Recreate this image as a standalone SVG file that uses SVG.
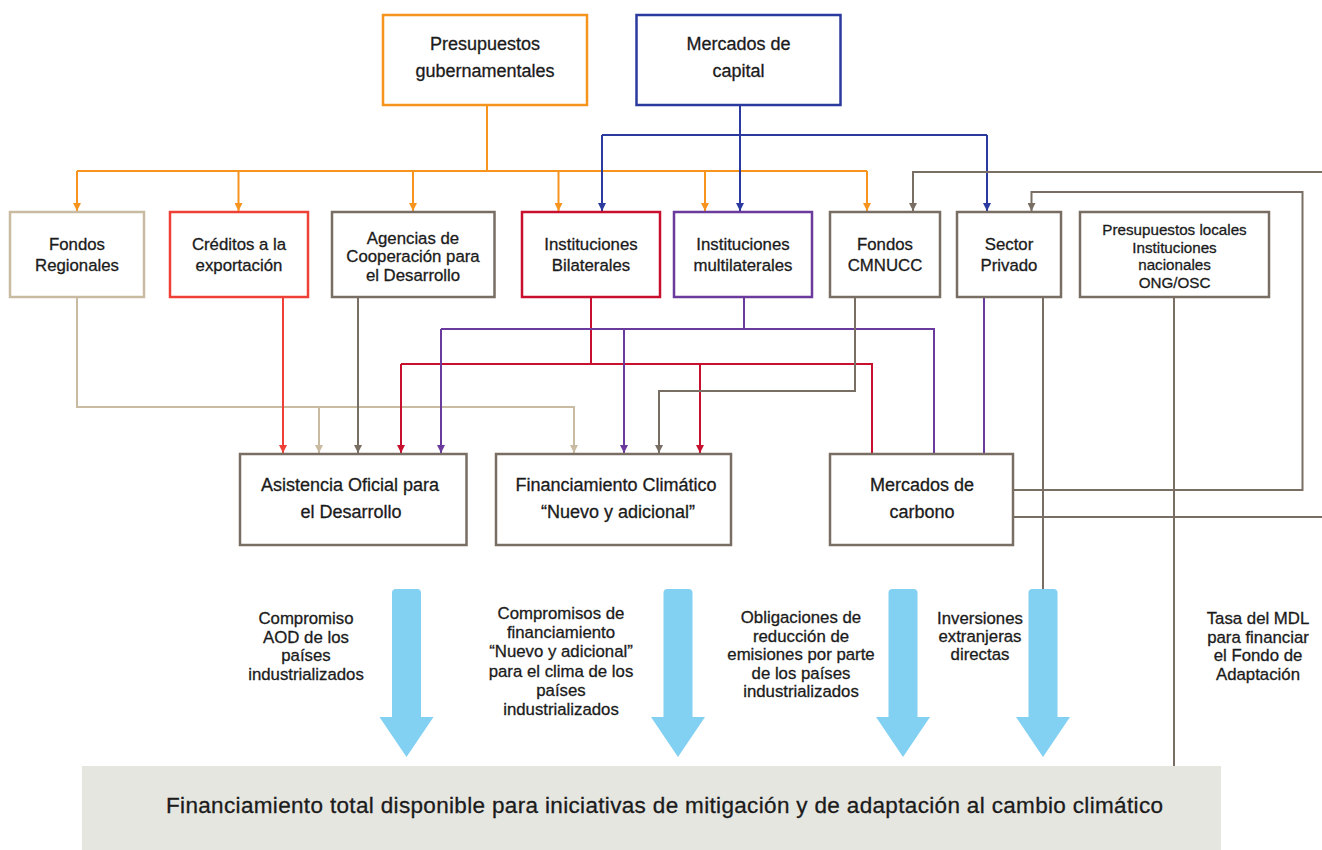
<svg xmlns="http://www.w3.org/2000/svg" width="1322" height="850" viewBox="0 0 1322 850">
<style>
text{font-family:"Liberation Sans",Arial,Helvetica,sans-serif;fill:#1b1b1b;stroke:#1b1b1b;stroke-width:0.3;text-anchor:middle}
.t18{font-size:18px}
.t17{font-size:16.8px}
.t15{font-size:15.2px}
.t22{font-size:22.5px}
.box{fill:#fff;stroke-width:2.5}
.ln{fill:none;stroke-width:2}
.or{stroke:#F7941D}.bl{stroke:#2B3A9E}.tn{stroke:#C8BBA2}.rd{stroke:#EE4036}
.gy{stroke:#786E63}.cr{stroke:#C8102E}.pu{stroke:#6A3B9C}
</style>
<defs>
<marker id="a-or" viewBox="0 0 8 8" refX="8" refY="4" markerWidth="8" markerHeight="8" markerUnits="userSpaceOnUse" orient="auto"><path d="M0,0L8,4L0,8z" fill="#F7941D"/></marker>
<marker id="a-bl" viewBox="0 0 8 8" refX="8" refY="4" markerWidth="8" markerHeight="8" markerUnits="userSpaceOnUse" orient="auto"><path d="M0,0L8,4L0,8z" fill="#2B3A9E"/></marker>
<marker id="a-tn" viewBox="0 0 8 8" refX="8" refY="4" markerWidth="8" markerHeight="8" markerUnits="userSpaceOnUse" orient="auto"><path d="M0,0L8,4L0,8z" fill="#C8BBA2"/></marker>
<marker id="a-rd" viewBox="0 0 8 8" refX="8" refY="4" markerWidth="8" markerHeight="8" markerUnits="userSpaceOnUse" orient="auto"><path d="M0,0L8,4L0,8z" fill="#EE4036"/></marker>
<marker id="a-gy" viewBox="0 0 8 8" refX="8" refY="4" markerWidth="8" markerHeight="8" markerUnits="userSpaceOnUse" orient="auto"><path d="M0,0L8,4L0,8z" fill="#786E63"/></marker>
<marker id="a-cr" viewBox="0 0 8 8" refX="8" refY="4" markerWidth="8" markerHeight="8" markerUnits="userSpaceOnUse" orient="auto"><path d="M0,0L8,4L0,8z" fill="#C8102E"/></marker>
<marker id="a-pu" viewBox="0 0 8 8" refX="8" refY="4" markerWidth="8" markerHeight="8" markerUnits="userSpaceOnUse" orient="auto"><path d="M0,0L8,4L0,8z" fill="#6A3B9C"/></marker>
<path id="bigarrow" d="M-14.5,128 V4 Q-14.5,0 -10.5,0 H10.5 Q14.5,0 14.5,4 V128 H27 L0,168 L-27,128 Z" fill="#82D0F2"/>
</defs>

<rect width="1322" height="850" fill="#fff"/>

<g id="connectors">
  <path class="ln or" d="M487,105V171M77,171H867"/>
  <path class="ln or" d="M77,171V211" marker-end="url(#a-or)"/>
  <path class="ln or" d="M238.5,171V211" marker-end="url(#a-or)"/>
  <path class="ln or" d="M413,171V211" marker-end="url(#a-or)"/>
  <path class="ln or" d="M558.5,171V211" marker-end="url(#a-or)"/>
  <path class="ln or" d="M705,171V211" marker-end="url(#a-or)"/>
  <path class="ln or" d="M867,171V211" marker-end="url(#a-or)"/>
  <path class="ln bl" d="M602,135H987"/>
  <path class="ln bl" d="M740,105V211" marker-end="url(#a-bl)"/>
  <path class="ln bl" d="M602,135V211" marker-end="url(#a-bl)"/>
  <path class="ln bl" d="M987,135V211" marker-end="url(#a-bl)"/>
  <path class="ln gy" d="M1013,517H1330"/>
  <path class="ln gy" d="M1330,172H913V211" marker-end="url(#a-gy)"/>
  <path class="ln gy" d="M1013,490H1302.5V192H1031.5V211" marker-end="url(#a-gy)"/>
  <path class="ln tn" d="M77,297V407H574V453" marker-end="url(#a-tn)"/>
  <path class="ln tn" d="M319,407V453" marker-end="url(#a-tn)"/>
  <path class="ln rd" d="M283,297V453" marker-end="url(#a-rd)"/>
  <path class="ln gy" d="M358,297V453" marker-end="url(#a-gy)"/>
  <path class="ln cr" d="M591,297V364M401,364H872V454"/>
  <path class="ln cr" d="M401,364V453" marker-end="url(#a-cr)"/>
  <path class="ln cr" d="M700,364V453" marker-end="url(#a-cr)"/>
  <path class="ln pu" d="M744,297V329M441,329H934V454"/>
  <path class="ln pu" d="M441,329V453" marker-end="url(#a-pu)"/>
  <path class="ln pu" d="M624,329V453" marker-end="url(#a-pu)"/>
  <path class="ln gy" d="M855,297V391H659V453" marker-end="url(#a-gy)"/>
  <path class="ln pu" d="M984,297V454"/>
  <path class="ln gy" d="M1043,297V592"/>
  <path class="ln gy" d="M1174,297V766"/>
</g>

<g id="presupuestos-gubernamentales">
  <rect class="box or" x="383" y="15" width="204" height="90"/>
  <text class="t18" x="485" y="50">Presupuestos</text>
  <text class="t18" x="485" y="76.5">gubernamentales</text>
</g>
<g id="mercados-capital">
  <rect class="box bl" x="636.5" y="15" width="204" height="90"/>
  <text class="t18" x="738.5" y="50">Mercados de</text>
  <text class="t18" x="738.5" y="76.5">capital</text>
</g>

<g id="fondos-regionales">
  <rect class="box tn" x="10" y="212" width="134" height="85"/>
  <text class="t17" x="77" y="250">Fondos</text>
  <text class="t17" x="77" y="271">Regionales</text>
</g>
<g id="creditos-exportacion">
  <rect class="box rd" x="170" y="212" width="138" height="85"/>
  <text class="t17" x="239" y="250">Créditos a la</text>
  <text class="t17" x="239" y="271">exportación</text>
</g>
<g id="agencias-cooperacion">
  <rect class="box gy" x="332" y="212" width="162.5" height="85"/>
  <text class="t17" x="413" y="243.5">Agencias de</text>
  <text class="t17" x="413" y="262">Cooperación para</text>
  <text class="t17" x="413" y="280.5">el Desarrollo</text>
</g>
<g id="instituciones-bilaterales">
  <rect class="box cr" x="522" y="212" width="138" height="85"/>
  <text class="t17" x="591" y="250">Instituciones</text>
  <text class="t17" x="591" y="271">Bilaterales</text>
</g>
<g id="instituciones-multilaterales">
  <rect class="box pu" x="674" y="212" width="138" height="85"/>
  <text class="t17" x="743" y="250">Instituciones</text>
  <text class="t17" x="743" y="271">multilaterales</text>
</g>
<g id="fondos-cmnucc">
  <rect class="box gy" x="830" y="212" width="110" height="85"/>
  <text class="t17" x="885" y="250">Fondos</text>
  <text class="t17" x="885" y="271">CMNUCC</text>
</g>
<g id="sector-privado">
  <rect class="box gy" x="957" y="212" width="104" height="85"/>
  <text class="t17" x="1009" y="250">Sector</text>
  <text class="t17" x="1009" y="271">Privado</text>
</g>
<g id="presupuestos-locales">
  <rect class="box gy" x="1080" y="212" width="189" height="85"/>
  <text class="t15" x="1174.5" y="235">Presupuestos locales</text>
  <text class="t15" x="1174.5" y="252.5">Instituciones</text>
  <text class="t15" x="1174.5" y="270">nacionales</text>
  <text class="t15" x="1174.5" y="287.5">ONG/OSC</text>
</g>

<g id="asistencia-oficial">
  <rect class="box gy" x="240" y="454" width="226.5" height="91"/>
  <text class="t18" x="350" y="490.5">Asistencia Oficial para</text>
  <text class="t18" x="351" y="517.5">el Desarrollo</text>
</g>
<g id="financiamiento-climatico">
  <rect class="box gy" x="496" y="454" width="235" height="91"/>
  <text class="t18" x="616" y="490.5">Financiamiento Climático</text>
  <text class="t18" x="618" y="517.5">“Nuevo y adicional”</text>
</g>
<g id="mercados-carbono">
  <rect class="box gy" x="830" y="454" width="183" height="91"/>
  <text class="t18" x="922" y="490.5">Mercados de</text>
  <text class="t18" x="922" y="517.5">carbono</text>
</g>

<g id="flujos">
  <use href="#bigarrow" x="406.5" y="589"/>
  <use href="#bigarrow" x="678" y="589"/>
  <use href="#bigarrow" x="903" y="589"/>
  <use href="#bigarrow" x="1043" y="589"/>
</g>

<g id="etiquetas">
  <text class="t17" x="306" y="624">Compromiso</text>
  <text class="t17" x="306" y="642.7">AOD de los</text>
  <text class="t17" x="306" y="661.3">países</text>
  <text class="t17" x="306" y="680">industrializados</text>

  <text class="t17" x="561" y="619">Compromisos de</text>
  <text class="t17" x="561" y="638.2">financiamiento</text>
  <text class="t17" x="561" y="657.4">“Nuevo y adicional”</text>
  <text class="t17" x="561" y="676.6">para el clima de los</text>
  <text class="t17" x="561" y="695.8">países</text>
  <text class="t17" x="561" y="715">industrializados</text>

  <text class="t17" x="801" y="623">Obligaciones de</text>
  <text class="t17" x="801" y="641.6">reducción de</text>
  <text class="t17" x="801" y="660.2">emisiones por parte</text>
  <text class="t17" x="801" y="678.8">de los países</text>
  <text class="t17" x="801" y="697.4">industrializados</text>

  <text class="t17" x="980" y="624">Inversiones</text>
  <text class="t17" x="980" y="642">extranjeras</text>
  <text class="t17" x="980" y="660">directas</text>

  <text class="t17" x="1258" y="624">Tasa del MDL</text>
  <text class="t17" x="1258" y="642.6">para financiar</text>
  <text class="t17" x="1258" y="661.2">el Fondo de</text>
  <text class="t17" x="1258" y="679.8">Adaptación</text>
</g>

<g id="financiamiento-total">
  <rect x="82" y="766" width="1139" height="90" fill="#E6E6E1"/>
  <text class="t22" x="664.5" y="813" textLength="997">Financiamiento total disponible para iniciativas de mitigación y de adaptación al cambio climático</text>
</g>
</svg>
